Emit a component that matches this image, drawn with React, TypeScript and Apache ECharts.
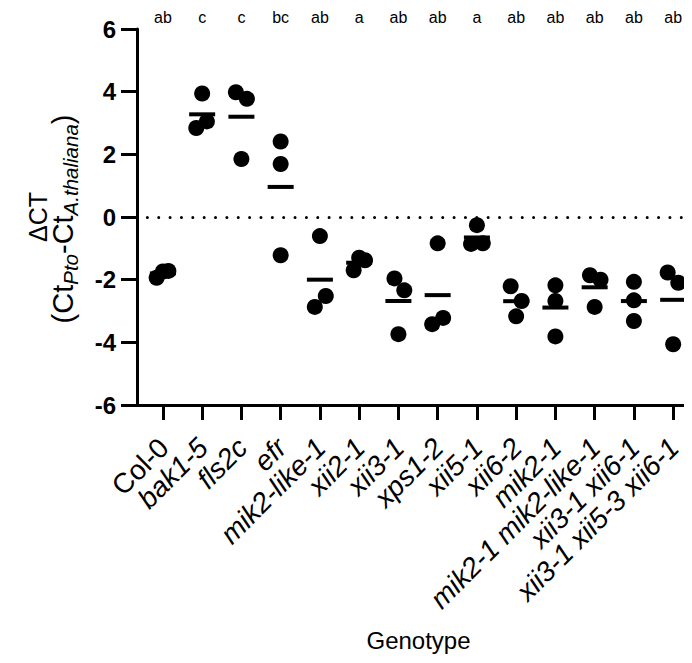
import React, { useEffect, useRef } from "react";
import * as echarts from "echarts";

const genotypes = [
  "Col-0",
  "bak1-5",
  "fls2c",
  "efr",
  "mik2-like-1",
  "xii2-1",
  "xii3-1",
  "xps1-2",
  "xii5-1",
  "xii6-2",
  "mik2-1",
  "mik2-1 mik2-like-1",
  "xii3-1 xii6-1",
  "xii3-1 xii5-3 xii6-1",
];

// three replicate ΔCT values per genotype
const values: number[][] = [
  [-1.94, -1.74, -1.72],
  [3.94, 3.05, 2.84],
  [3.98, 3.77, 1.85],
  [2.41, 1.69, -1.22],
  [-0.61, -2.52, -2.87],
  [-1.3, -1.38, -1.7],
  [-1.96, -2.34, -3.74],
  [-0.84, -3.22, -3.42],
  [-0.26, -0.86, -0.84],
  [-2.21, -2.68, -3.17],
  [-2.18, -2.68, -3.81],
  [-1.86, -2.0, -2.87],
  [-2.07, -2.66, -3.32],
  [-1.77, -2.1, -4.06],
];

// horizontal scatter of the replicate dots (category units)
const spread: number[][] = [
  [-0.16, 0, 0.14],
  [0, 0.12, -0.15],
  [-0.14, 0.14, 0],
  [0, 0, 0],
  [0, 0.15, -0.13],
  [0, 0.15, -0.14],
  [-0.1, 0.15, 0],
  [0, 0.14, -0.14],
  [0, -0.15, 0.15],
  [-0.14, 0.14, 0],
  [0, 0, 0],
  [-0.12, 0.15, 0],
  [0, 0, 0],
  [-0.14, 0.13, 0],
];

const letters = ["ab", "c", "c", "bc", "ab", "a", "ab", "ab", "a", "ab", "ab", "ab", "ab", "ab"];

const yTicks = { min: -6, max: 6, interval: 2 };

const FONT = "'Liberation Sans', Arial, sans-serif";

export default function App() {
  const ref = useRef<HTMLDivElement>(null);
  useEffect(() => {
    if (!ref.current) return;
    const chart = echarts.init(ref.current, null, { renderer: "svg" });

    const dots: number[][] = [];
    values.forEach((vals, i) =>
      vals.forEach((v, j) => dots.push([i + spread[i][j], v]))
    );
    const means = values.map((vals, i) => [
      i,
      vals.reduce((a, b) => a + b, 0) / vals.length,
    ]);
    const letterData = letters.map((l, i) => ({ value: [i, yTicks.max], name: l }));
    const nameData = genotypes.map((g, i) => ({ value: [i, yTicks.min], name: g }));
    const idx = genotypes.map((_, i) => i);

    chart.setOption({
      animation: false,
      backgroundColor: "#ffffff",
      grid: { left: 137, right: 0, top: 29, height: 376 },
      xAxis: {
        type: "value",
        min: -0.66,
        max: 13.48,
        splitLine: { show: false },
        axisLine: { onZero: false, lineStyle: { color: "#000", width: 3 } },
        axisTick: {
          customValues: idx,
          length: 15,
          lineStyle: { color: "#000", width: 3 },
        },
        axisLabel: { show: false },
        name: "Genotype",
        nameLocation: "middle",
        nameGap: 223,
        nameTextStyle: {
          fontFamily: FONT,
          fontSize: 24,
          color: "#000",
          padding: [0, 0, 0, 8],
        },
      },
      yAxis: {
        type: "value",
        min: yTicks.min,
        max: yTicks.max,
        interval: yTicks.interval,
        splitLine: { show: false },
        axisLine: { show: true, onZero: false, lineStyle: { color: "#000", width: 3 } },
        axisTick: { show: true, length: 16, lineStyle: { color: "#000", width: 3 } },
        axisLabel: {
          margin: 21,
          color: "#000",
          fontFamily: FONT,
          fontWeight: "bold",
          fontSize: 24,
        },
      },
      graphic: [
        {
          type: "text",
          x: 38,
          y: 217,
          rotation: Math.PI / 2,
          style: {
            text: "ΔCT",
            fontFamily: FONT,
            fontSize: 25,
            fill: "#000",
            align: "center",
            verticalAlign: "middle",
          },
        },
        {
          type: "text",
          x: 63,
          y: 219,
          rotation: Math.PI / 2,
          style: {
            text: "{n|(Ct}{s|Pto}{n|-Ct}{s|A.thaliana}{n|)}",
            fontFamily: FONT,
            fontSize: 29,
            fill: "#000",
            align: "center",
            verticalAlign: "middle",
            rich: {
              n: { fontFamily: FONT, fontSize: 29, lineHeight: 34, fill: "#000" },
              s: {
                fontFamily: FONT,
                fontSize: 20.5,
                fontStyle: "italic",
                lineHeight: 22,
                verticalAlign: "bottom",
                fill: "#000",
              },
            },
          },
        },
      ],
      series: [
        {
          type: "scatter",
          data: dots,
          symbol: "circle",
          symbolSize: 16,
          itemStyle: { color: "#000", opacity: 1 },
          silent: true,
          z: 3,
          markLine: {
            silent: true,
            symbol: "none",
            label: { show: false },
            lineStyle: {
              color: "#000",
              width: 3,
              type: [0.01, 11.35],
              cap: "round",
              dashOffset: 1.05,
              opacity: 1,
            },
            data: [{ yAxis: 0 }],
          },
        },
        {
          type: "scatter",
          data: means,
          symbol: "rect",
          symbolSize: [26, 4],
          itemStyle: { color: "#000", opacity: 1 },
          silent: true,
          z: 4,
        },
        {
          type: "scatter",
          data: letterData,
          symbolSize: 0,
          clip: false,
          silent: true,
          itemStyle: { color: "#000", opacity: 1 },
          label: {
            show: true,
            position: "inside",
            offset: [0, -12],
            formatter: (p: any) => p.name,
            fontFamily: FONT,
            fontSize: 16,
            color: "#000",
            opacity: 1,
          },
        },
        {
          type: "scatter",
          data: nameData,
          symbolSize: 0,
          clip: false,
          silent: true,
          itemStyle: { color: "#000", opacity: 1 },
          labelLayout: { hideOverlap: false },
          label: {
            show: true,
            position: [1, 38],
            rotate: 45,
            align: "right",
            verticalAlign: "middle",
            opacity: 1,
            formatter: (p: any) =>
              p.name === "Col-0" ? `{n|${p.name}}` : `{i|${p.name}}`,
            rich: {
              n: { fontFamily: FONT, fontSize: 28, color: "#000" },
              i: { fontFamily: FONT, fontSize: 28, fontStyle: "italic", color: "#000" },
            },
          },
        },
      ],
    });
    return () => chart.dispose();
  }, []);
  return <div ref={ref} style={{ width: 692, height: 663, margin: -8 }} />;
}
